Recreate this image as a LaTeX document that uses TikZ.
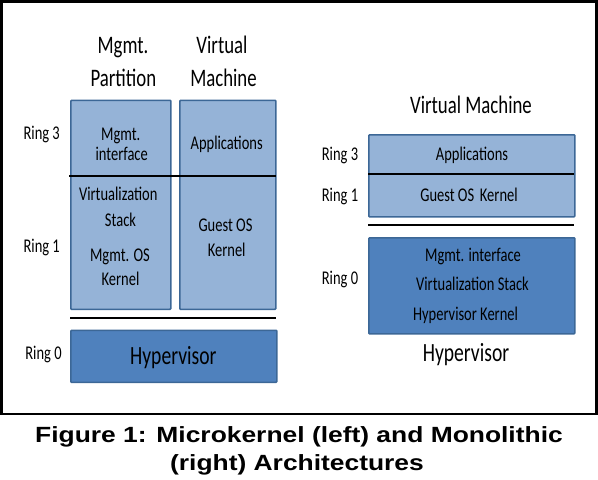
\documentclass[tikz,border=0pt]{standalone}
\usepackage{graphicx}
\usepackage{fontspec}
\setmainfont{Carlito}
\newfontfamily\capfont{Liberation Sans}
\newcommand\tallt[1]{\scalebox{1}[1.34]{#1}}
\newcommand\widet[1]{\scalebox{1.2}[1]{#1}}
\definecolor{lightfill}{HTML}{95B3D7}
\definecolor{darkfill}{HTML}{4F81BD}
\definecolor{boxedge}{HTML}{3C6796}
\tikzset{
  lightbox/.style={fill=lightfill,draw=boxedge,line width=1.6pt,rounded corners=0.8pt},
  darkbox/.style={fill=darkfill,draw=boxedge,line width=1.6pt,rounded corners=0.8pt},
  sepline/.style={line width=2.4pt,black},
  ringlbl/.style={font=\fontsize{14.5}{16}\selectfont,anchor=base,inner sep=0pt},
  boxtxt/.style={font=\fontsize{14.5}{17}\selectfont,anchor=base,inner sep=0pt},
  titletxt/.style={font=\fontsize{18.8}{23}\selectfont,anchor=base,inner sep=0pt},
  bigtxt/.style={font=\fontsize{19.6}{23}\selectfont,anchor=base,inner sep=0pt},
  captxt/.style={font=\capfont\bfseries\fontsize{22}{26}\selectfont,anchor=base,inner sep=0pt}
}
\begin{document}
\begin{tikzpicture}[x=1pt,y=-1pt]
\useasboundingbox (0,0) rectangle (598,480);
% outer frame
\draw[line width=2.6pt] (1.3,1.3) rectangle (596.2,414);

% ---------- left: microkernel ----------
\node[titletxt] (tmp1) at (123,53.3) {\tallt{Mgmt.}};
\node[titletxt] (tmp2) at (123.4,86.7) {\tallt{Partition}};
\node[titletxt] (tvm1) at (222,53.3) {\tallt{Virtual}};
\node[titletxt] (tvm2) at (223.5,86.7) {\tallt{Machine}};

\node[lightbox,minimum width=100pt,minimum height=209pt,anchor=north west] (mpbox) at (70,99.5) {};
\node[lightbox,minimum width=96pt,minimum height=209pt,anchor=north west] (vmbox) at (179,99.5) {};
\coordinate (r3l) at (69,176);
\coordinate (r3r) at (276,176);
\draw[sepline] (r3l) -- (r3r);

\node[boxtxt] (mgi1) at (120.8,140) {\tallt{Mgmt.}};
\node[boxtxt] (mgi2) at (121.7,160.7) {\tallt{interface}};
\node[boxtxt] (apl) at (226.7,149.3) {\tallt{Applications}};
\node[boxtxt] (vst1) at (118.3,200.7) {\tallt{Virtualization}};
\node[boxtxt] (vst2) at (120.5,226.7) {\tallt{Stack}};
\node[boxtxt] (mok1) at (120,261.7) {\tallt{Mgmt. OS}};
\node[boxtxt] (mok2) at (120.5,285.5) {\tallt{Kernel}};
\node[boxtxt] (gok1) at (225.5,231.7) {\tallt{Guest OS}};
\node[boxtxt] (gok2) at (226.7,256.7) {\tallt{Kernel}};

\coordinate (s0l) at (70,318);
\coordinate (s0r) at (276,318);
\draw[sepline] (s0l) -- (s0r);

\node[darkbox,minimum width=206pt,minimum height=52pt,anchor=north west] (hyp) at (70,329.5) {};
\node[bigtxt] (hyptxt) at (173.3,364) {\tallt{Hypervisor}};

\node[ringlbl] (lr3) at (41.7,139.3) {\tallt{Ring 3}};
\node[ringlbl] (lr1) at (41.7,252.7) {\tallt{Ring 1}};
\node[ringlbl] (lr0) at (43.5,359.3) {\tallt{Ring 0}};

% ---------- right: monolithic ----------
\node[titletxt] (rvm) at (471,113.3) {\tallt{Virtual Machine}};
\node[lightbox,minimum width=206pt,minimum height=82pt,anchor=north west] (rtop) at (368,134) {};
\coordinate (rl) at (368,174);
\coordinate (rr) at (574,174);
\draw[line width=1.8pt] (rl) -- (rr);
\node[boxtxt] (rapl) at (472,160) {\tallt{Applications}};
\node[boxtxt] (rgok) at (469,201.7) {\tallt{Guest OS\, Kernel}};

\coordinate (rsl) at (368,225);
\coordinate (rsr) at (574,225);
\draw[sepline] (rsl) -- (rsr);

\node[darkbox,minimum width=206pt,minimum height=96pt,anchor=north west] (rhyp) at (368,237) {};
\node[boxtxt] (rmi) at (473,261.7) {\tallt{Mgmt. interface}};
\node[boxtxt] (rvs) at (472.5,290.7) {\tallt{Virtualization Stack}};
\node[boxtxt] (rhk) at (465.5,320.7) {\tallt{Hypervisor Kernel}};
\node[bigtxt] (rhyplbl) at (466,361.7) {\tallt{Hypervisor}};

\node[ringlbl] (rr3) at (340,160) {\tallt{Ring 3}};
\node[ringlbl] (rr1) at (340,201.7) {\tallt{Ring 1}};
\node[ringlbl] (rr0) at (340,284) {\tallt{Ring 0}};

% caption
\node[captxt] (cap1) at (299,442) {\widet{Figure 1: Microkernel (left) and Monolithic}};
\node[captxt] (cap2) at (297,470) {\widet{(right) Architectures}};
\end{tikzpicture}
\end{document}
